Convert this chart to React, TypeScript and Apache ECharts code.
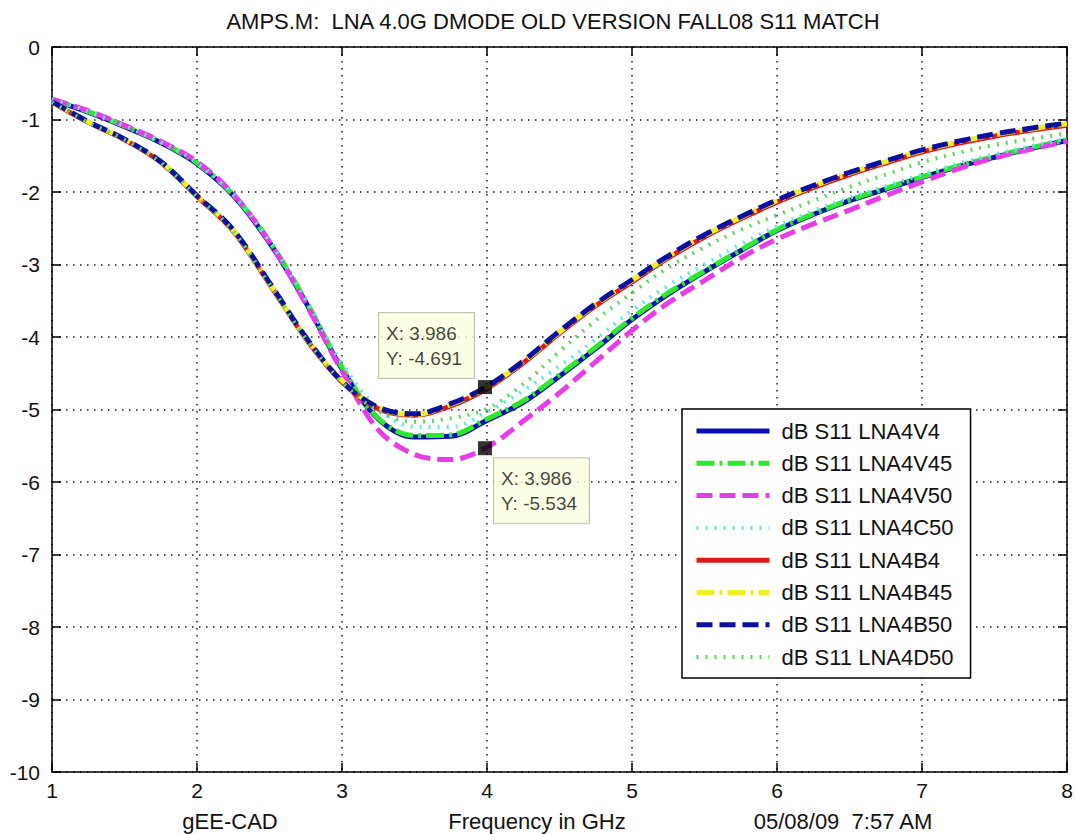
import React, { useEffect, useRef } from "react";
import * as echarts from "echarts";

// ---------- data ----------
const freq = [1, 1.25, 1.5, 1.75, 2, 2.25, 2.5, 2.75, 3, 3.25, 3.5, 3.75, 4, 4.25, 4.5, 4.75, 5, 5.25, 5.5, 5.75, 6, 6.25, 6.5, 6.75, 7, 7.25, 7.5, 7.75, 8];

const lna4V4 = [-0.73, -0.9, -1.1, -1.32, -1.61, -2.05, -2.7, -3.52, -4.44, -5.13, -5.38, -5.37, -5.15, -4.9, -4.54, -4.16, -3.76, -3.41, -3.1, -2.81, -2.53, -2.31, -2.12, -1.96, -1.8, -1.65, -1.52, -1.4, -1.29];
const lna4V45 = [-0.72, -0.89, -1.09, -1.31, -1.6, -2.04, -2.68, -3.5, -4.42, -5.12, -5.36, -5.35, -5.13, -4.88, -4.52, -4.14, -3.74, -3.39, -3.09, -2.8, -2.52, -2.3, -2.11, -1.95, -1.79, -1.64, -1.51, -1.39, -1.28];
const lna4V50 = [-0.72, -0.88, -1.08, -1.3, -1.58, -2.03, -2.69, -3.54, -4.47, -5.28, -5.62, -5.69, -5.52, -5.16, -4.77, -4.34, -3.91, -3.53, -3.22, -2.91, -2.65, -2.44, -2.25, -2.05, -1.86, -1.68, -1.53, -1.41, -1.3];
const lna4C50 = [-0.72, -0.89, -1.09, -1.31, -1.6, -2.04, -2.68, -3.48, -4.36, -4.99, -5.24, -5.24, -5.03, -4.74, -4.4, -4.03, -3.63, -3.29, -3.0, -2.72, -2.47, -2.26, -2.08, -1.92, -1.76, -1.61, -1.48, -1.37, -1.26];
const lna4B4 = [-0.76, -1.04, -1.28, -1.59, -2.06, -2.54, -3.27, -4.02, -4.62, -4.99, -5.08, -4.95, -4.71, -4.36, -3.95, -3.57, -3.24, -2.91, -2.62, -2.37, -2.14, -1.94, -1.76, -1.6, -1.45, -1.33, -1.23, -1.15, -1.08];
const lna4B45 = [-0.75, -1.03, -1.27, -1.58, -2.05, -2.53, -3.26, -4.01, -4.6, -4.97, -5.07, -4.93, -4.69, -4.34, -3.93, -3.55, -3.22, -2.89, -2.6, -2.35, -2.12, -1.92, -1.74, -1.58, -1.43, -1.31, -1.21, -1.13, -1.06];
const lna4B50 = [-0.75, -1.03, -1.27, -1.58, -2.05, -2.52, -3.25, -4.0, -4.61, -4.97, -5.06, -4.92, -4.68, -4.33, -3.92, -3.54, -3.21, -2.88, -2.59, -2.34, -2.11, -1.91, -1.73, -1.57, -1.42, -1.3, -1.2, -1.12, -1.05];
const lna4D50 = [-0.76, -1.04, -1.28, -1.59, -2.06, -2.54, -3.27, -4.02, -4.62, -5.02, -5.17, -5.12, -4.99, -4.65, -4.2, -3.77, -3.39, -3.04, -2.76, -2.52, -2.32, -2.12, -1.93, -1.76, -1.59, -1.46, -1.35, -1.27, -1.19];

const seriesNames = [
  "dB S11 LNA4V4",
  "dB S11 LNA4V45",
  "dB S11 LNA4V50",
  "dB S11 LNA4C50",
  "dB S11 LNA4B4",
  "dB S11 LNA4B45",
  "dB S11 LNA4B50",
  "dB S11 LNA4D50",
];
const seriesValues = [lna4V4, lna4V45, lna4V50, lna4C50, lna4B4, lna4B45, lna4B50, lna4D50];

const tipX = [3.986, 3.986];
const tipY = [-4.691, -5.534];

const titleText = "AMPS.M:  LNA 4.0G DMODE OLD VERSION FALL08 S11 MATCH";
const footLeft = "gEE-CAD";
const xAxisTitle = "Frequency in GHz";
const footRight = "05/08/09  7:57 AM";

const xMin = 1, xMax = 8, xStep = 1;
const yMin = -10, yMax = 0, yStep = 1;

// ---------- styles ----------
const FONT = "'Liberation Sans', Arial, sans-serif";
const lineStyles = [
  { color: "#0a10b4", type: "solid", width: 5 },
  { color: "#2ee82e", type: [18, 5, 3, 5], width: 5 },
  { color: "#e83ce8", type: [16, 7], width: 5 },
  { color: "#5ee8e8", type: [2, 7], width: 4 },
  { color: "#e01818", type: "solid", width: 5 },
  { color: "#f0f028", type: [18, 5, 3, 5], width: 5 },
  { color: "#0a10a0", type: [16, 7], width: 5 },
  { color: "#5ed65e", type: [2, 7], width: 4 },
];
const tipLabelOffsets = [
  [-99, -67],
  [16, 17],
];

export default function App() {
  const ref = useRef<HTMLDivElement>(null);

  useEffect(() => {
    document.body.style.margin = "0";
    const chart = echarts.init(ref.current!, null, { renderer: "svg" });

    const axisLine = { show: true, onZero: false, lineStyle: { color: "#000", width: 1.5 } };
    const axisTick = { show: true, inside: true, length: 9, lineStyle: { color: "#000", width: 1.5 } };
    const grid = { show: true, lineStyle: { color: "#1a1a1a", type: [1.5, 5.5], width: 1.5 } };

    const option: any = {
      animation: false,
      backgroundColor: "#fff",
      grid: { left: 52, right: 8, top: 47, bottom: 62, containLabel: false, outerBoundsMode: "none" },
      xAxis: [
        {
          type: "value", min: xMin, max: xMax, interval: xStep, position: "bottom",
          axisLine, axisTick,
          axisLabel: { fontSize: 21, color: "#111", margin: 8, fontFamily: FONT },
          splitLine: grid,
        },
        {
          type: "value", min: xMin, max: xMax, interval: xStep, position: "top",
          axisLine, axisTick, axisLabel: { show: false }, splitLine: { show: false },
        },
      ],
      yAxis: [
        {
          type: "value", min: yMin, max: yMax, interval: yStep, position: "left",
          axisLine, axisTick,
          axisLabel: { fontSize: 21, color: "#111", margin: 12, fontFamily: FONT },
          splitLine: grid,
        },
        {
          type: "value", min: yMin, max: yMax, interval: yStep, position: "right",
          axisLine, axisTick, axisLabel: { show: false }, splitLine: { show: false },
        },
      ],
      legend: {
        data: seriesNames,
        orient: "vertical",
        left: 682,
        top: 409,
        itemWidth: 73,
        itemHeight: 24,
        itemGap: 8.3,
        padding: [10, 17, 9, 12],
        backgroundColor: "#fff",
        borderColor: "#000",
        borderWidth: 1.5,
        borderRadius: 0,
        selectedMode: false,
        textStyle: { fontSize: 22, color: "#111", fontFamily: FONT, lineHeight: 24, padding: [0, 0, 0, 7] },
        lineStyle: { width: "inherit" },
        itemStyle: { opacity: 0, color: "rgba(0,0,0,0)", borderWidth: 0 },
      },
      series: [
        ...seriesNames.map((name, i) => ({
          type: "line",
          name,
          data: freq.map((f, j) => [f, seriesValues[i][j]]),
          symbol: "none",
          smooth: 0.35,
          lineStyle: { color: lineStyles[i].color, type: lineStyles[i].type, width: lineStyles[i].width },
          itemStyle: { color: lineStyles[i].color },
          emphasis: { disabled: true },
          silent: true,
          z: 2,
        })),
        {
          type: "scatter",
          name: "datatips",
          symbol: "rect",
          symbolSize: 14,
          itemStyle: { color: "#000" },
          z: 10,
          silent: true,
          emphasis: { disabled: true },
          data: tipX.map((x, i) => ({
            value: [x, tipY[i]],
            label: { position: tipLabelOffsets[i] },
          })),
          label: {
            show: true,
            formatter: (p: any) => `X: ${p.value[0].toFixed(3)}\nY: ${p.value[1].toFixed(3)}`,
            fontSize: 19,
            lineHeight: 25,
            color: "#111",
            fontFamily: FONT,
            backgroundColor: "#ffffe1",
            borderColor: "#b4b4a0",
            borderWidth: 1,
            padding: [8, 12, 7, 7],
          },
        },
      ],
      graphic: [
        { type: "text", x: 553, y: 21, style: { text: titleText, fontSize: 22, fontFamily: FONT, fill: "#111", align: "center", verticalAlign: "middle" } },
        { type: "text", x: 230, y: 821, style: { text: footLeft, fontSize: 22, fontFamily: FONT, fill: "#111", align: "center", verticalAlign: "middle" } },
        { type: "text", x: 537, y: 821, style: { text: xAxisTitle, fontSize: 22, fontFamily: FONT, fill: "#111", align: "center", verticalAlign: "middle" } },
        { type: "text", x: 843, y: 821, style: { text: footRight, fontSize: 22, fontFamily: FONT, fill: "#111", align: "center", verticalAlign: "middle" } },
      ],
    };

    chart.setOption(option);
    return () => chart.dispose();
  }, []);

  return (
    <div
      ref={ref}
      style={{ position: "absolute", left: 0, top: 0, width: 1075, height: 834, background: "#fff" }}
    />
  );
}
